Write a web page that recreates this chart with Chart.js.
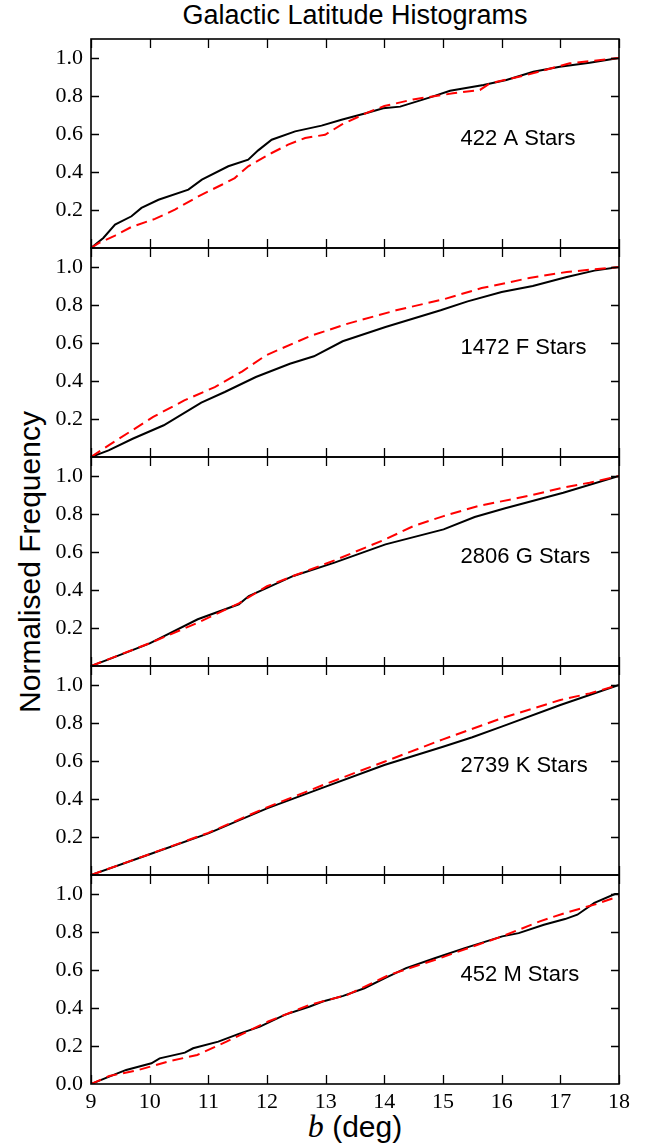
<!DOCTYPE html>
<html>
<head>
    <title>Galactic Latitude Histograms</title>
    <script src="https://cdn.jsdelivr.net/npm/chart.js@4"></script>
    <style>
        body {
            margin: 0;
            width: 655px;
            height: 1146px;
            position: relative;
            background: #fff;
            overflow: hidden;
            font-family: "Liberation Sans", Arial, sans-serif;
        }
        canvas.panel {
            position: absolute;
            left: 0;
        }
        #title {
            position: absolute;
            left: 355px;
            top: 2px;
            transform: translateX(-50%);
            font-size: 27px;
            line-height: 27px;
            white-space: nowrap;
        }
        #ylabel {
            position: absolute;
            left: 30px;
            top: 562px;
            transform: translate(-50%, -50%) rotate(-90deg);
            font-size: 30px;
            line-height: 30px;
            white-space: nowrap;
        }
        #xlabel {
            position: absolute;
            left: 355px;
            top: 1111px;
            transform: translateX(-50%);
            font-size: 30px;
            line-height: 30px;
            white-space: nowrap;
        }
        #xlabel i {
            font-family: "Liberation Serif", serif;
            font-size: 32px;
        }
    </style>
</head>
<body>
    <div id="title">Galactic Latitude Histograms</div>
    <div id="ylabel">Normalised Frequency</div>
    <div id="xlabel"><i>b</i> (deg)</div>

    <canvas id="p0" class="panel"></canvas>
    <canvas id="p1" class="panel"></canvas>
    <canvas id="p2" class="panel"></canvas>
    <canvas id="p3" class="panel"></canvas>
    <canvas id="p4" class="panel"></canvas>

    <script>
        const xTicks = [9, 10, 11, 12, 13, 14, 15, 16, 17, 18];
        const yTicks = [0.2, 0.4, 0.6, 0.8, 1.0];
        const yTicksBottom = [0.0, 0.2, 0.4, 0.6, 0.8, 1.0];
        const panelLabels = ['422 A Stars', '1472 F Stars', '2806 G Stars', '2739 K Stars', '452 M Stars'];

        // A stars
        const aBlackX = [9, 9.21, 9.41, 9.69, 9.86, 10.15, 10.66, 10.89, 11.34, 11.68, 11.85, 12.08, 12.48, 12.93, 13.27, 13.70, 13.98, 14.27, 14.78, 15.12, 15.69, 16.08, 16.54, 16.99, 17.5, 18];
        const aBlackY = [0, 0.053, 0.123, 0.167, 0.211, 0.254, 0.307, 0.360, 0.430, 0.465, 0.514, 0.570, 0.614, 0.644, 0.675, 0.711, 0.735, 0.744, 0.793, 0.828, 0.858, 0.884, 0.928, 0.954, 0.975, 1.0];
        const aRedX = [9, 9.13, 9.41, 9.69, 10.09, 10.43, 10.83, 11.23, 11.45, 11.68, 12.08, 12.36, 12.65, 12.99, 13.27, 13.70, 14.0, 14.49, 15.17, 15.63, 15.80, 16.43, 17.16, 18];
        const aRedY = [0, 0.026, 0.065, 0.111, 0.153, 0.202, 0.272, 0.333, 0.368, 0.430, 0.500, 0.544, 0.579, 0.596, 0.649, 0.711, 0.747, 0.782, 0.814, 0.832, 0.867, 0.911, 0.972, 1.0];

        // F stars
        const fBlackX = [9, 9.30, 9.71, 10.24, 10.88, 11.28, 11.81, 12.39, 12.80, 13.29, 14.02, 14.96, 15.42, 16.00, 16.53, 17.11, 17.58, 18];
        const fBlackY = [0, 0.035, 0.096, 0.167, 0.286, 0.342, 0.421, 0.491, 0.530, 0.609, 0.684, 0.772, 0.819, 0.868, 0.900, 0.947, 0.981, 1.0];
        const fRedX = [9, 9.30, 10.06, 10.59, 11.11, 11.58, 11.98, 12.74, 13.38, 14.20, 15.01, 15.66, 16.47, 17.11, 18];
        const fRedY = [0, 0.061, 0.211, 0.298, 0.368, 0.451, 0.535, 0.637, 0.702, 0.772, 0.830, 0.889, 0.942, 0.974, 1.0];

        // G stars
        const gBlackX = [9, 9.30, 10.0, 10.82, 11.52, 11.69, 12.45, 13.15, 14.02, 15.01, 15.54, 16.06, 17.05, 18];
        const gBlackY = [0, 0.035, 0.119, 0.246, 0.325, 0.368, 0.474, 0.544, 0.640, 0.719, 0.784, 0.830, 0.912, 1.0];
        const gRedX = [9, 10.0, 10.82, 11.52, 12.0, 12.5, 13.15, 14.02, 14.5, 15.01, 15.6, 16.5, 17.05, 17.5, 18];
        const gRedY = [0, 0.12, 0.228, 0.33, 0.42, 0.48, 0.556, 0.667, 0.737, 0.789, 0.842, 0.898, 0.939, 0.965, 1.0];

        // K stars
        const kBlackX = [9, 10, 11, 12, 13, 14, 15, 15.5, 16, 17, 18];
        const kBlackY = [0, 0.109, 0.219, 0.351, 0.465, 0.579, 0.675, 0.725, 0.781, 0.895, 1.0];
        const kRedX = [9, 10, 11, 12, 13, 14, 15, 16, 17, 17.5, 18];
        const kRedY = [0, 0.11, 0.222, 0.356, 0.479, 0.596, 0.714, 0.825, 0.921, 0.956, 1.0];

        // M stars
        const mBlackX = [9, 9.31, 9.60, 10.03, 10.17, 10.60, 10.74, 11.17, 11.52, 11.88, 12.30, 12.73, 12.95, 13.30, 13.66, 14.01, 14.37, 14.87, 15.37, 16.01, 16.29, 16.72, 17.08, 17.29, 17.58, 17.93, 18];
        const mBlackY = [0, 0.039, 0.074, 0.109, 0.135, 0.165, 0.188, 0.223, 0.264, 0.302, 0.364, 0.408, 0.434, 0.464, 0.504, 0.557, 0.610, 0.663, 0.715, 0.777, 0.794, 0.838, 0.868, 0.891, 0.953, 1.0, 1.0];
        const mRedX = [9, 9.31, 9.81, 10.31, 10.81, 11.31, 12.02, 12.73, 13.37, 14.09, 14.87, 15.51, 16.01, 16.65, 17.08, 17.58, 18];
        const mRedY = [0, 0.042, 0.074, 0.118, 0.153, 0.223, 0.329, 0.417, 0.469, 0.575, 0.654, 0.724, 0.777, 0.856, 0.900, 0.944, 0.988];

        const blackSeries = [[aBlackX, aBlackY], [fBlackX, fBlackY], [gBlackX, gBlackY], [kBlackX, kBlackY], [mBlackX, mBlackY]];
        const redSeries = [[aRedX, aRedY], [fRedX, fRedY], [gRedX, gRedY], [kRedX, kRedY], [mRedX, mRedY]];

        const panelTops = [39, 248, 457, 666, 875];
        const panelHeight = 209;
        const pad = 12;
        const tickFont = { family: 'Liberation Serif', size: 22 };

        function toPoints(xs, ys) {
            return xs.map((x, i) => ({ x: x, y: ys[i] }));
        }

        // frame, inward ticks and the panel label
        const framePlugin = {
            id: 'frame',
            afterDatasetsDraw(chart, args, opts) {
                const ctx = chart.ctx;
                const a = chart.chartArea;
                const xs = chart.scales.x;
                const ys = chart.scales.y;
                ctx.save();
                ctx.strokeStyle = '#000';
                ctx.lineWidth = 1.3;
                ctx.beginPath();
                xTicks.forEach(v => {
                    const px = Math.round(xs.getPixelForValue(v)) + 0.5;
                    ctx.moveTo(px, a.top);
                    ctx.lineTo(px, a.top + 9);
                    ctx.moveTo(px, a.bottom);
                    ctx.lineTo(px, a.bottom - 9);
                });
                yTicks.forEach(v => {
                    const py = Math.round(ys.getPixelForValue(v)) + 0.5;
                    ctx.moveTo(a.left, py);
                    ctx.lineTo(a.left + 8, py);
                    ctx.moveTo(a.right, py);
                    ctx.lineTo(a.right - 8, py);
                });
                ctx.stroke();
                ctx.lineWidth = 1.6;
                ctx.strokeRect(a.left, a.top, a.right - a.left, a.bottom - a.top);

                ctx.fillStyle = '#000';
                ctx.font = '22px "Liberation Sans", Arial, sans-serif';
                ctx.textAlign = 'left';
                ctx.textBaseline = 'alphabetic';
                ctx.fillText(opts.label, xs.getPixelForValue(15.3), ys.getPixelForValue(0.585) + 8);
                ctx.restore();
            }
        };

        Chart.defaults.color = '#000';

        panelLabels.forEach((label, i) => {
            const isLast = i === panelLabels.length - 1;
            const canvas = document.getElementById('p' + i);
            const h = pad + panelHeight + (isLast ? 40 : pad);
            canvas.width = 655;
            canvas.height = h;
            canvas.style.top = (panelTops[i] - pad) + 'px';
            canvas.style.width = '655px';
            canvas.style.height = h + 'px';

            new Chart(canvas.getContext('2d'), {
                type: 'line',
                data: {
                    datasets: [
                        {
                            label: 'black',
                            data: toPoints(blackSeries[i][0], blackSeries[i][1]),
                            borderColor: '#000',
                            borderWidth: 2,
                            pointRadius: 0,
                            tension: 0,
                            fill: false,
                            order: 1
                        },
                        {
                            label: 'red',
                            data: toPoints(redSeries[i][0], redSeries[i][1]),
                            borderColor: '#ff0000',
                            borderWidth: 2,
                            borderDash: [11, 6],
                            pointRadius: 0,
                            tension: 0,
                            fill: false,
                            order: 0
                        }
                    ]
                },
                options: {
                    responsive: false,
                    animation: false,
                    devicePixelRatio: 1,
                    events: [],
                    layout: {
                        padding: { left: 0, right: 36, top: pad, bottom: isLast ? 0 : pad }
                    },
                    plugins: {
                        legend: { display: false },
                        tooltip: { enabled: false },
                        frame: { label: label }
                    },
                    scales: {
                        x: {
                            type: 'linear',
                            min: 9,
                            max: 18,
                            grid: { display: false, drawTicks: false },
                            border: { display: false },
                            afterBuildTicks: s => { s.ticks = xTicks.map(v => ({ value: v })); },
                            afterFit: s => {
                                s.height = isLast ? 40 : 0;
                                s.paddingLeft = 0;
                                s.paddingRight = 0;
                            },
                            ticks: {
                                display: isLast,
                                autoSkip: false,
                                maxRotation: 0,
                                padding: 5,
                                color: '#000',
                                font: tickFont,
                                callback: v => String(v)
                            }
                        },
                        y: {
                            type: 'linear',
                            min: 0,
                            max: 1.1,
                            grid: { display: false, drawTicks: false },
                            border: { display: false },
                            afterBuildTicks: s => { s.ticks = (isLast ? yTicksBottom : yTicks).map(v => ({ value: v })); },
                            afterFit: s => {
                                s.width = 91;
                                s.paddingTop = 0;
                                s.paddingBottom = 0;
                            },
                            ticks: {
                                padding: 8,
                                color: '#000',
                                font: tickFont,
                                callback: v => v.toFixed(1)
                            }
                        }
                    }
                },
                plugins: [framePlugin]
            });
        });
    </script>
</body>
</html>
